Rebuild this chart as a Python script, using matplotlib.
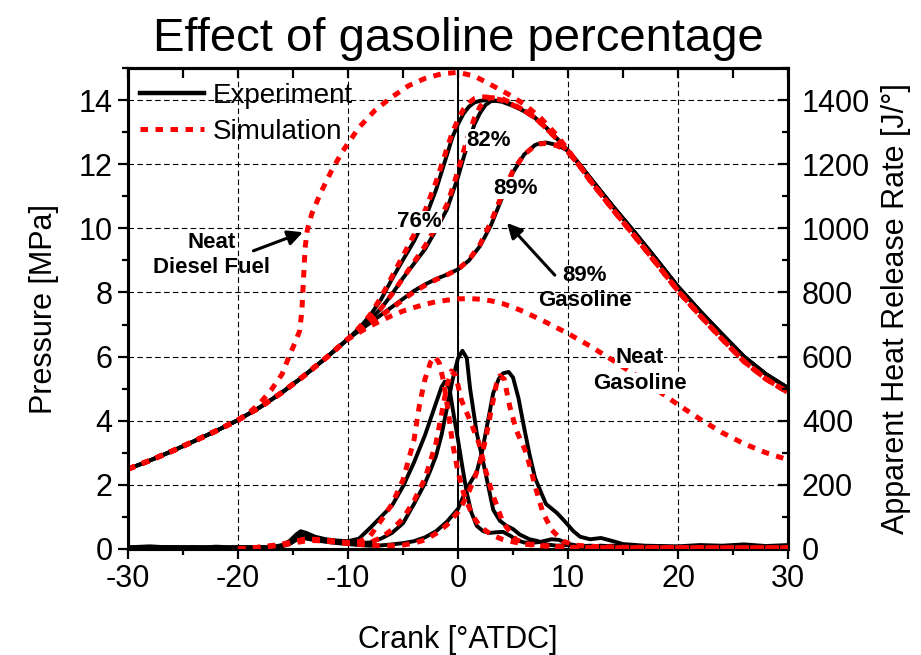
import matplotlib
matplotlib.use("Agg")
import matplotlib.pyplot as plt
from matplotlib.lines import Line2D
from matplotlib.ticker import MultipleLocator

plt.rcParams['font.family'] = ['Liberation Sans', 'DejaVu Sans']
plt.rcParams['axes.unicode_minus'] = False

# ---------------- pressure data [MPa] ----------------
# shared compression stroke
ca_comp = [-30, -28, -26, -24, -22, -20, -18, -16, -14, -12, -10]
p_comp = [2.49, 2.76, 3.05, 3.36, 3.68, 4.02, 4.42, 4.88, 5.40, 5.96, 6.55]

# shared expansion stroke
ca_expn = [11, 12, 14, 16, 18, 20, 22, 24, 26, 28, 30]
p_expn_exp = [12.02, 11.58, 10.72, 9.90, 9.05, 8.18, 7.42, 6.70, 6.00, 5.45, 5.02]
p_expn_sim = [11.98, 11.50, 10.62, 9.78, 8.92, 8.05, 7.28, 6.55, 5.85, 5.30, 4.88]

# combustion part, blends
ca_76 = [-9, -8, -7, -6, -5, -4, -3, -2, -1, -0.5, 0, 0.5, 1, 1.5, 2, 2.5, 3, 4, 5, 6, 7, 8, 9, 10]
p_76_exp = [6.88, 7.28, 7.78, 8.42, 9.02, 9.60, 10.30, 11.20, 12.30, 12.85, 13.25, 13.58, 13.80, 13.93,
            13.98, 14.00, 14.00, 13.95, 13.82, 13.66, 13.45, 13.15, 12.80, 12.42]
p_76_sim = [6.90, 7.30, 7.85, 8.50, 9.15, 9.80, 10.55, 11.45, 12.50, 13.00, 13.40, 13.72, 13.92, 14.05,
            14.10, 14.10, 14.08, 14.00, 13.85, 13.68, 13.45, 13.13, 12.78, 12.38]

ca_82 = [-9, -8, -7, -6, -5, -4, -3, -2, -1, -0.5, 0, 0.5, 1, 1.5, 2, 2.5, 3, 4, 5, 6, 7, 8, 9, 10]
p_82_exp = [6.85, 7.15, 7.50, 7.95, 8.45, 8.90, 9.35, 9.95, 10.60, 11.10, 11.60, 12.20, 12.75, 13.25,
            13.60, 13.85, 13.97, 14.00, 13.85, 13.66, 13.45, 13.15, 12.80, 12.42]
p_82_sim = [6.85, 7.15, 7.50, 7.95, 8.45, 8.95, 9.45, 10.05, 10.75, 11.25, 11.80, 12.40, 12.95, 13.45,
            13.80, 14.00, 14.08, 14.05, 13.88, 13.68, 13.45, 13.13, 12.78, 12.38]

ca_89 = [-9, -8, -7, -6, -5, -4, -3, -2, -1, 0, 1, 2, 3, 4, 5, 6, 7, 7.5, 8, 9, 10]
p_89_exp = [6.80, 7.05, 7.30, 7.55, 7.80, 8.05, 8.25, 8.42, 8.56, 8.72, 9.00, 9.45, 10.10, 10.95,
            11.75, 12.30, 12.60, 12.66, 12.68, 12.60, 12.42]
p_89_sim = [6.78, 7.02, 7.27, 7.52, 7.77, 8.02, 8.22, 8.40, 8.55, 8.72, 9.02, 9.50, 10.20, 11.05,
            11.80, 12.30, 12.58, 12.64, 12.65, 12.58, 12.40]

# neat diesel fuel (simulation)
ca_diesel = [-19, -18, -17, -16, -15.3, -14.8, -14.4, -14.2, -14.05, -13.9, -13.7, -13.3, -12.5, -11.5,
             -10.5, -9, -7.5, -6, -4.5, -3, -1.5, 0, 1.5, 3, 4.5, 6, 7.5, 9, 10]
p_diesel = [4.25, 4.55, 4.95, 5.45, 6.05, 6.45, 6.80, 7.40, 8.40, 9.40, 9.95, 10.45, 11.10, 11.80,
            12.40, 13.15, 13.70, 14.10, 14.45, 14.68, 14.82, 14.87, 14.75, 14.48, 14.20, 13.88, 13.45,
            12.90, 12.45]

# neat gasoline (simulation)
ca_gasoline = [-9, -8, -7, -6, -5, -4, -3, -2, -1, 0, 1, 2, 3, 4, 5, 6, 8, 10, 12, 14, 16, 18, 20, 22,
               24, 26, 28, 30]
p_gasoline = [6.75, 6.95, 7.12, 7.28, 7.42, 7.53, 7.63, 7.71, 7.76, 7.80, 7.81, 7.79, 7.74, 7.66, 7.54,
              7.40, 7.07, 6.72, 6.33, 5.90, 5.45, 4.98, 4.50, 4.05, 3.63, 3.28, 3.00, 2.78]

# ---------------- apparent heat release rate [J/deg] ----------------
ca_hrr_base = [-30, -28, -26, -24, -22, -20, -18, -17, -16]

ca_h76_exp = [-15.3, -14.7, -14.3, -13.8, -13, -12, -11, -10, -9, -8, -7, -6, -5, -4, -3, -2.5, -2, -1.5,
              -1.2, -0.8, -0.4, 0, 0.4, 0.8, 1.2, 1.7, 2.3, 2.9, 3.5, 4.1, 4.8, 5.3, 6, 6.8, 7.5, 8.5,
              9.2, 10, 11, 12, 13, 14, 16, 18, 20, 22, 24, 26, 28, 30]
h76_exp = [25, 45, 55, 50, 38, 30, 26, 24, 32, 65, 100, 135, 195, 270, 355, 405, 455, 505, 522, 505, 420,
           340, 255, 175, 115, 72, 55, 50, 52, 53, 40, 28, 20, 19, 22, 30, 28, 16, 9, 8, 10, 8, 5, 6, 4,
           8, 5, 7, 4, 6]
h76_base = [5, 8, 4, 6, 3, 6, 4, 5, 12]

ca_h82_exp = [-15.3, -14.7, -14.3, -13.8, -13, -12, -11, -10, -9, -8, -7, -6, -5, -4, -3, -2.5, -2, -1.5,
              -1, -0.5, 0, 0.4, 0.8, 1.1, 1.7, 2.5, 3.2, 3.8, 4.4, 5, 5.6, 6.5, 7.2, 8, 9, 10, 11, 12,
              13, 14, 16, 18, 20, 22, 24, 26, 28, 30]
h82_exp = [20, 38, 45, 42, 33, 27, 23, 20, 18, 20, 32, 50, 80, 140, 205, 246, 290, 355, 440, 527, 595,
           618, 595, 500, 362, 237, 122, 88, 72, 62, 45, 30, 25, 14, 10, 12, 8, 10, 8, 10, 6, 8, 5, 7,
           6, 9, 5, 8]
h82_base = [4, 6, 5, 3, 7, 4, 5, 4, 10]

ca_h89_exp = [-15.3, -14.7, -14.3, -13.8, -13, -12, -11, -10, -9, -8, -7, -6, -5, -4, -3, -2, -1, -0.5,
              0, 0.5, 1, 1.7, 2.2, 2.7, 3.2, 3.7, 4.1, 4.6, 5, 5.5, 6, 6.5, 7, 7.5, 8, 9, 9.6, 10.5,
              11.1, 12, 13, 14, 15, 17, 20, 22, 24, 26, 28, 30]
h89_exp = [15, 28, 35, 32, 27, 22, 18, 15, 12, 10, 11, 14, 18, 24, 36, 55, 85, 105, 125, 165, 200, 240,
           305, 395, 486, 530, 548, 552, 535, 470, 380, 295, 222, 180, 140, 112, 90, 55, 38, 30, 34,
           25, 15, 10, 8, 12, 10, 14, 9, 12]
h89_base = [3, 5, 6, 4, 5, 3, 6, 4, 8]

ca_h76_sim = [-20, -19, -18, -17, -16, -15, -14, -13, -12, -11, -10, -9, -8, -7, -6, -5, -4, -3.5, -3,
              -2.5, -2.1, -1.7, -1.3, -0.9, -0.5, 0, 0.5, 1, 1.5, 2, 3, 4, 5, 6, 8, 10, 12, 15, 20, 25, 30]
h76_sim = [0, 2, 6, 10, 15, 22, 30, 30, 27, 24, 20, 22, 40, 88, 140, 215, 340, 450, 530, 582, 600, 580,
           520, 430, 330, 240, 175, 130, 95, 70, 45, 30, 22, 15, 8, 5, 4, 3, 3, 3, 3]

ca_h82_sim = [-20, -19, -18, -17, -16, -15, -14, -13, -12, -11, -10, -9, -8, -7, -6, -5, -4, -3, -2, -1.5,
              -1, -0.6, -0.2, 0.3, 1.1, 1.9, 2.5, 3.1, 4.1, 5.3, 6.5, 8, 10, 12, 15, 20, 25, 30]
h82_sim = [0, 2, 5, 9, 14, 20, 27, 28, 25, 22, 18, 16, 20, 35, 60, 95, 150, 220, 330, 420, 510, 555, 540,
           465, 400, 330, 246, 175, 81, 28, 15, 10, 5, 4, 3, 3, 3, 3]

ca_h89_sim = [-20, -19, -18, -17, -16, -15, -14, -13, -12, -11, -10, -9, -8, -7, -6, -5, -4, -3, -2, -1, 0,
              0.5, 1, 1.5, 2, 2.5, 3, 3.5, 3.8, 4.2, 4.7, 5.3, 6.2, 7.1, 7.7, 8.5, 9.5, 10.5, 12, 15,
              20, 25, 30]
h89_sim = [0, 2, 5, 8, 12, 18, 24, 26, 24, 20, 17, 14, 12, 10, 10, 12, 18, 28, 48, 75, 115, 145, 180,
           220, 270, 340, 430, 515, 540, 530, 445, 370, 300, 185, 115, 60, 25, 12, 8, 5, 4, 4, 4]

# ---------------- figure ----------------
fig = plt.figure(figsize=(9.21, 6.55), dpi=100)
ax = fig.add_axes([0.139, 0.162, 0.7166, 0.734])
ax2 = ax.twinx()

exp_kw = dict(color='black', lw=2.8, solid_capstyle='round', zorder=3)
sim_kw = dict(color='#ff0000', lw=3.6, linestyle=(0, (1.5, 1.5)), zorder=4)

# pressure, experiment
ax.plot(ca_comp + ca_76 + ca_expn, p_comp + p_76_exp + p_expn_exp, **exp_kw)
ax.plot(ca_comp + ca_82 + ca_expn, p_comp + p_82_exp + p_expn_exp, **exp_kw)
ax.plot(ca_comp + ca_89 + ca_expn, p_comp + p_89_exp + p_expn_exp, **exp_kw)
# pressure, simulation
ax.plot(ca_comp + ca_76 + ca_expn, p_comp + p_76_sim + p_expn_sim, **sim_kw)
ax.plot(ca_comp + ca_82 + ca_expn, p_comp + p_82_sim + p_expn_sim, **sim_kw)
ax.plot(ca_comp + ca_89 + ca_expn, p_comp + p_89_sim + p_expn_sim, **sim_kw)
ax.plot(ca_comp[:-5] + ca_diesel + ca_expn, p_comp[:-5] + p_diesel + p_expn_sim, **sim_kw)
ax.plot(ca_comp + ca_gasoline, p_comp + p_gasoline, **sim_kw)

# heat release rate
ax2.plot(ca_hrr_base + ca_h76_exp, h76_base + h76_exp, **exp_kw)
ax2.plot(ca_hrr_base + ca_h82_exp, h82_base + h82_exp, **exp_kw)
ax2.plot(ca_hrr_base + ca_h89_exp, h89_base + h89_exp, **exp_kw)
ax2.plot(ca_h76_sim, h76_sim, **sim_kw)
ax2.plot(ca_h82_sim, h82_sim, **sim_kw)
ax2.plot(ca_h89_sim, h89_sim, **sim_kw)

# axes limits and ticks
ax.set_xlim(-30, 30)
ax.set_ylim(0, 15)
ax2.set_ylim(0, 1500)
ax.xaxis.set_major_locator(MultipleLocator(10))
ax.xaxis.set_minor_locator(MultipleLocator(5))
ax.yaxis.set_major_locator(MultipleLocator(2))
ax.yaxis.set_minor_locator(MultipleLocator(1))
ax2.yaxis.set_major_locator(MultipleLocator(200))
ax2.yaxis.set_minor_locator(MultipleLocator(100))

ax.tick_params(axis='both', which='major', direction='out', length=7, width=1.6, labelsize=22, pad=4)
ax.tick_params(axis='both', which='minor', direction='out', length=4, width=1.6)
ax2.tick_params(axis='y', which='major', direction='in', length=7, width=1.6, labelsize=22, pad=10)
ax2.tick_params(axis='y', which='minor', direction='in', length=4, width=1.6)

top = ax.secondary_xaxis('top')
top.xaxis.set_major_locator(MultipleLocator(10))
top.xaxis.set_minor_locator(MultipleLocator(5))
top.tick_params(which='major', direction='in', length=7, width=1.6, labeltop=False)
top.tick_params(which='minor', direction='in', length=7, width=1.6)
top.spines['top'].set_linewidth(2.2)

for a in (ax, ax2):
    for s in a.spines.values():
        s.set_linewidth(2.2)

ax.grid(True, which='major', color='black', lw=0.8, linestyle=(0, (5, 3)))
ax.axvline(0, color='black', lw=1.4, zorder=2)

ax.set_xlabel('Crank [°ATDC]', fontsize=22, labelpad=22)
ax.set_ylabel('Pressure [MPa]', fontsize=22, labelpad=14)
ax2.set_ylabel('Apparent Heat Release Rate [J/°]', fontsize=22, labelpad=8)
ax.set_title('Effect of gasoline percentage', fontsize=34, pad=12)

# legend
handles = [Line2D([], [], color='black', lw=3.2),
           Line2D([], [], color='#ff0000', lw=3.6, linestyle=(0, (1.5, 1.5)))]
ax2.legend(handles, ['Experiment', 'Simulation'], loc='upper left', bbox_to_anchor=(-0.02, 1.022),
           frameon=False, fontsize=20, handlelength=2.3, handletextpad=0.32, labelspacing=0.36)

# annotations
lab_kw = dict(fontsize=16, fontweight='bold', ha='center', va='center', zorder=6,
              bbox=dict(facecolor='white', edgecolor='none', pad=0.5))
ax.text(-3.5, 10.2, '76%', **lab_kw)
ax.text(2.8, 12.75, '82%', **lab_kw)
ax.text(5.2, 11.25, '89%', **lab_kw)
word_kw = dict(fontsize=16, fontweight='bold', ha='center', va='center', zorder=6,
               bbox=dict(facecolor='white', edgecolor='none', pad=0.0))
ax.text(16.5, 5.96, 'Neat', **word_kw)
ax.text(16.5, 5.16, 'Gasoline', **word_kw)
ax.text(-22.4, 9.17, 'Neat\nDiesel Fuel', linespacing=1.3, fontsize=16, fontweight='bold',
        ha='center', va='center')
ax.text(11.5, 8.14, '89%\nGasoline', linespacing=1.3, fontsize=16, fontweight='bold',
        ha='center', va='center')
arrow = dict(arrowstyle='-|>,head_length=0.9,head_width=0.45', color='black', lw=2.2,
             shrinkA=0, shrinkB=0)
ax.annotate('', xy=(-14.1, 9.88), xytext=(-18.6, 9.3), arrowprops=arrow, zorder=6)
ax.annotate('', xy=(4.45, 10.17), xytext=(8.8, 8.54), arrowprops=arrow, zorder=6)

fig.savefig('out.png', dpi=100)
